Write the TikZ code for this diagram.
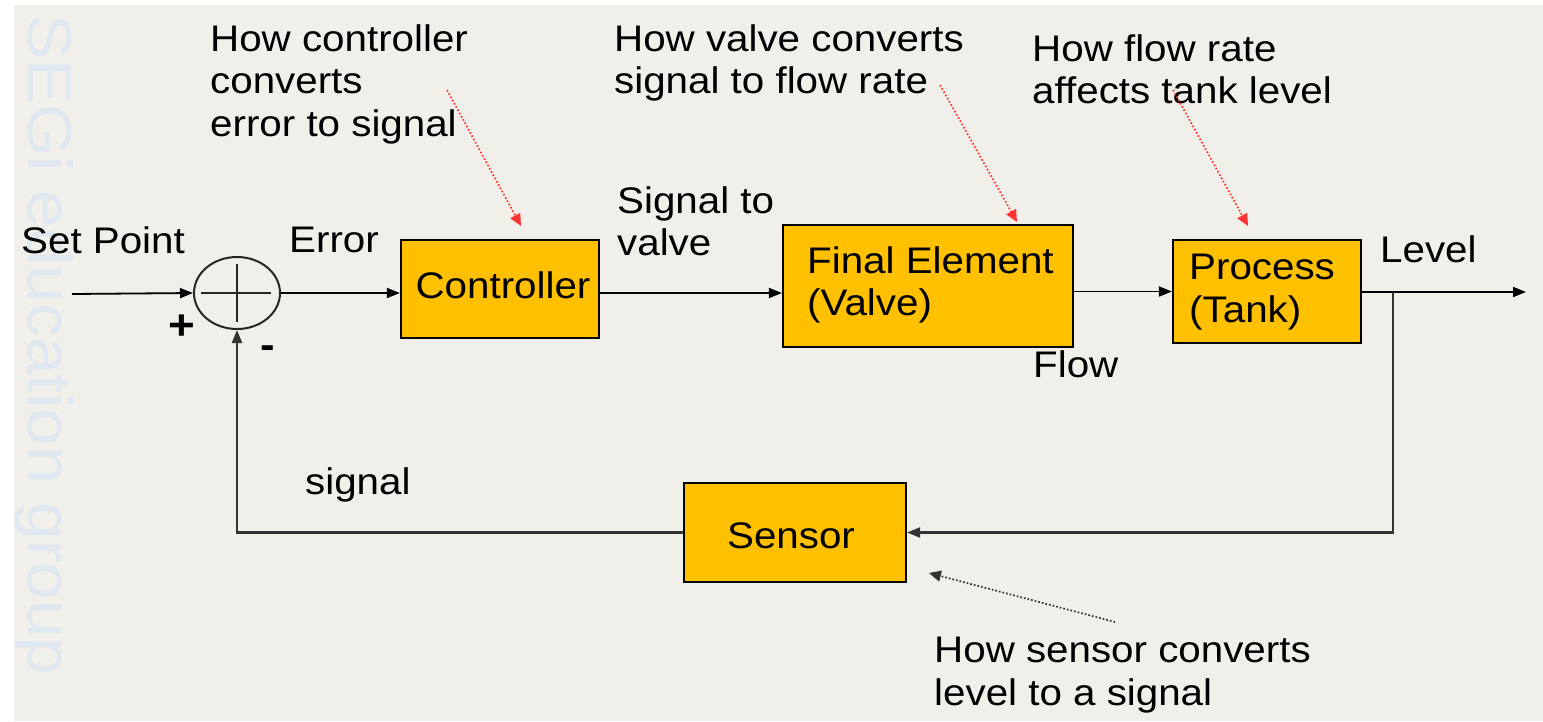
\documentclass[tikz,border=0pt]{standalone}
\usepackage{fontspec}
\setmainfont{Liberation Sans}[FakeStretch=1.09]
\usetikzlibrary{shapes.geometric,arrows.meta,calc}
\definecolor{bg}{HTML}{F0EFE9}
\definecolor{boxfill}{HTML}{FFC000}
\definecolor{wm}{HTML}{DFE8F0}
\definecolor{annred}{HTML}{FF3535}
\begin{document}
\begin{tikzpicture}[x=1pt,y=-1pt,
  font=\fontsize{37}{42.5}\selectfont,
  blk/.style={draw=black, line width=2.2pt, fill=boxfill, inner sep=0, align=center},
  sig/.style={line width=1.8pt, -{Triangle[length=13pt,width=10pt]}},
  fb/.style={line width=2.2pt, draw=black!80, -{Triangle[length=13pt,width=10pt]}},
  note/.style={annred, dotted, line width=1.7pt, -{Triangle[length=12pt,width=11pt]}},
  bnote/.style={black!80, dotted, line width=1.7pt, -{Triangle[length=12pt,width=11pt]}},
  lbl/.style={inner sep=0, anchor=base west},
  ml/.style={inner sep=0, anchor=north west, align=left}]
\useasboundingbox (0,0) rectangle (1543,721);
\fill[white] (0,0) rectangle (1543,721);
\fill[bg] (14,5) rectangle (1543,721);
\node[rotate=-90, anchor=base west, inner sep=0, text=wm,
  font=\fontsize{62}{72}\selectfont] (wmark) at (28,14) {SEGi education group};

% blocks
\node[ellipse, draw=black!85, line width=2pt, minimum width=86pt, minimum height=72pt, inner sep=0] (sum) at (237,293) {};
\draw[line width=2pt, black!85] ($(sum.center)+(-36,0)$) -- ($(sum.center)+(34,0)$)
  ($(sum.center)+(0,-29)$) -- ($(sum.center)+(0,29)$);
\node[blk, minimum width=198pt, minimum height=98pt] (ctrl) at (500,289) {};
\node[lbl, anchor=base] (ctrlt) at (503,298) {Controller};
\node[blk, minimum width=290pt, minimum height=122pt] (valve) at (928,286) {};
\node[ml] (valvet) at (807,246) {Final Element\\(Valve)};
\node[blk, minimum width=188pt, minimum height=103pt] (proc) at (1267,291.5) {};
\node[ml] (proct) at (1189,254) {Process\\(Tank)};
\node[blk, minimum width=222pt, minimum height=99pt] (sensor) at (795,532.5) {};
\node[lbl, anchor=base] (sensort) at (791,548) {Sensor};

% signal labels
\node[lbl] (sp) at (21,253) {Set Point};
\node[lbl] (err) at (289,252) {Error};
\node[ml] (sv) at (617,186) {Signal to\\valve};
\node[lbl] (flow) at (1033,377) {Flow};
\node[lbl] (lev) at (1380,262) {Level};
\node[lbl] (sg) at (305,494) {signal};
\node[inner sep=0, font=\fontsize{42}{48}\bfseries\selectfont] (plus) at (182,327) {+};
\node[inner sep=0, font=\fontsize{40}{48}\bfseries\selectfont] (minus) at (268,352) {-};

% connectors
\coordinate (in) at (72,294);
\coordinate (out) at (1526,292);
\coordinate (tap) at (1393,292);
\draw[sig] (in) -- (sum.west);
\draw[sig] (sum.east) -- (sum.east -| ctrl.west);
\draw[sig] (ctrl.east |- sum.east) -- (valve.west |- sum.east);
\draw[sig] (valve.east |- proc.west) -- (proc.west);
\draw[sig] (proc.east |- out) -- (out);
\draw[fb] (tap) |- (sensor.east);
\draw[fb] (sensor.west) -| (sum.south);

% annotations
\node[ml] (n1) at (210,24) {How controller\\converts\\error to signal};
\node[ml] (n2) at (614,24) {How valve converts\\signal to flow rate};
\node[ml] (n3) at (1032,34) {How flow rate\\affects tank level};
\node[ml] (n4) at (934,637) {How sensor converts\\level to a signal};
\coordinate (a1s) at (447,90);   \coordinate (a1e) at (521,226);
\coordinate (a2s) at (940,85);   \coordinate (a2e) at (1017,222);
\coordinate (a3s) at (1173,90);  \coordinate (a3e) at (1248,226);
\coordinate (a4s) at (1115,622); \coordinate (a4e) at (929,573);
\draw[note] (a1s) -- (a1e);
\draw[note] (a2s) -- (a2e);
\draw[note] (a3s) -- (a3e);
\draw[bnote] (a4s) -- (a4e);
\end{tikzpicture}
\end{document}
